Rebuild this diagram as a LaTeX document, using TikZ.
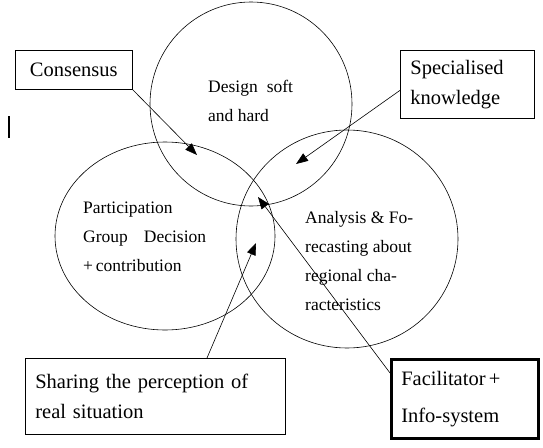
\documentclass[tikz,border=0pt]{standalone}
\usepackage{fontspec}
\setmainfont{Liberation Serif}
\usetikzlibrary{shapes.geometric,arrows.meta}

\tikzset{
  ring/.style={ellipse, draw, line width=0.6pt, inner sep=0pt},
  box/.style={draw, line width=0.7pt, anchor=north west, align=left, inner xsep=10pt,
    font=\fontsize{20.5}{30}\selectfont},
  inside/.style={anchor=base west, align=left, inner sep=0pt,
    font=\fontsize{17.5}{29}\selectfont},
  pointer/.style={line width=0.6pt, -{Triangle[length=12pt,width=9pt]}}
}

\begin{document}
\begin{tikzpicture}[x=1pt,y=-1pt]
  % Canvas
  \useasboundingbox (0,0) rectangle (543,447);

  % The three overlapping fields
  \node[ring, minimum width=202pt, minimum height=204pt] (design) at (251,104) {};
  \node[ring, minimum width=220pt, minimum height=188pt] (group) at (165,236) {};
  \node[ring, minimum width=222pt, minimum height=218pt] (region) at (347,239) {};

  % Texts inside the fields (placed at the baseline of their last line)
  \node[inside] (designtext) at (208,121) {Design\hspace{9pt}soft\\and hard};
  \node[inside] (grouptext) at (83,271) {Participation\\Group\hspace{16pt}Decision\\+\,contribution};
  \node[inside] (regiontext) at (305,310) {Analysis \& Fo-\\recasting about\\regional cha-\\racteristics};

  % Boxes round the fields
  \node[box, minimum width=117pt, minimum height=39pt] (consensus) at (15,50) {Consensus};
  \node[box, text width=114pt, minimum height=68pt] (special) at (400,50) {Specialised\\knowledge};
  \node[box, text width=240pt, minimum height=76pt] (sharing) at (25,358) {Sharing the perception of\\real situation};
  \node[box, line width=2.6pt, text width=127pt, minimum height=79pt,
    font=\fontsize{20.5}{37}\selectfont] (facil) at (390,358) {Facilitator\,+\\Info-system};

  % Arrow tips
  \coordinate (tipdesign) at (197,155);
  \coordinate (tipregion) at (296,164);
  \coordinate (tipgroup) at (256,243);
  \coordinate (tipcentre) at (258,197);

  % Arrows
  \draw[pointer] (consensus.south east) -- (tipdesign);
  \draw[pointer] ([yshift=-6pt]special.west) -- (tipregion);
  \draw[pointer] ([xshift=182pt]sharing.north west) -- (tipgroup);
  \draw[pointer] ([yshift=-15pt]facil.north west) -- (tipcentre);

  % Stray mark on the left
  \draw[line width=2pt] (9,116) -- (9,138);
\end{tikzpicture}
\end{document}
